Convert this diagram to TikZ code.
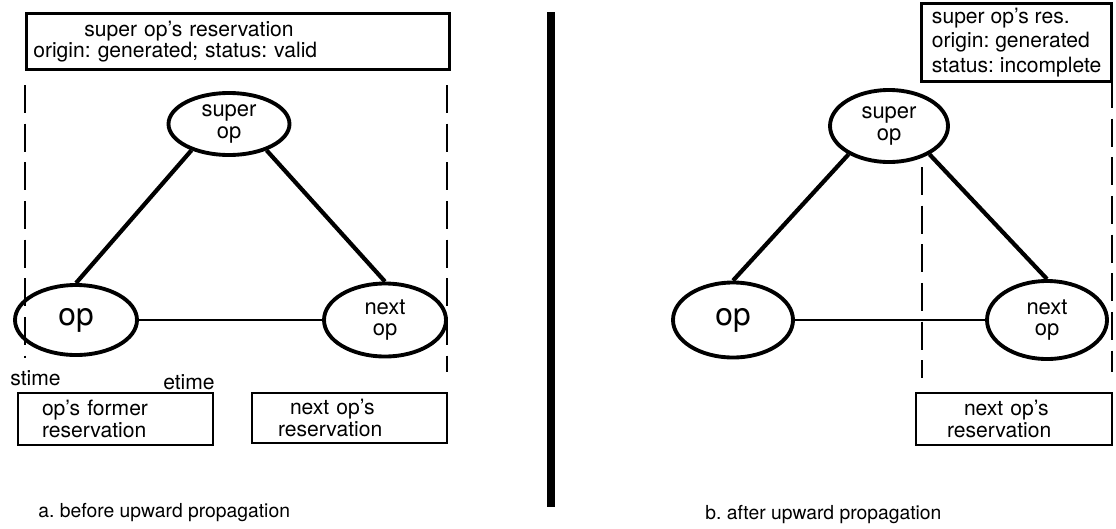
\documentclass[tikz,border=0pt]{standalone}
\usepackage{fontspec}
\setmainfont{TeX Gyre Heros}
\usepackage{tikz}
\usetikzlibrary{shapes.geometric}
\frenchspacing

\begin{document}
\begin{tikzpicture}

          \tikzstyle{opNode} = [draw, ellipse, line width=2.2pt, inner sep=0pt, align=center, font=\fontsize{12.5}{12}\selectfont];
          \tikzstyle{bigOpNode} = [opNode, font=\fontsize{18}{18}\selectfont];
          \tikzstyle{resBox} = [draw, rectangle, line width=1.5pt, inner sep=0pt, align=left, font=\fontsize{12}{12}\selectfont];
          \tikzstyle{timeLabel} = [inner sep=0pt, font=\fontsize{12}{12}\selectfont];
          \tikzstyle{caption} = [inner sep=0pt, anchor=west, font=\fontsize{11}{11}\selectfont];

          \tikzstyle{treeEdge} = [line width=2.4pt];
          \tikzstyle{seqEdge} = [line width=1.3pt];
          \tikzstyle{boundLine} = [line width=0.9pt, dash pattern=on 16pt off 6pt];

          \useasboundingbox (0,0) rectangle (22.32,-10.56);

          % a. before upward propagation
          \node[resBox, anchor=north west, minimum width=8.46cm, minimum height=1.12cm, text width=8.18cm] (superResA) at (0.5,-0.24)
            {\hspace*{1.02cm}super op's reservation\\origin: generated; status: valid};
          \node[opNode, minimum width=2.42cm, minimum height=1.24cm] (superA) at (4.58,-2.48) {super\\op};
          \node[bigOpNode, minimum width=2.44cm, minimum height=1.4cm] (opA) at (1.52,-6.4) {op};
          \node[opNode, minimum width=2.44cm, minimum height=1.46cm] (nextA) at (7.7,-6.4) {next\\op};
          \node[timeLabel, anchor=west] (stimeA) at (0.2,-7.56) {stime};
          \node[timeLabel, anchor=east] (etimeA) at (4.3,-7.64) {etime};
          \node[resBox, minimum width=3.9cm, minimum height=1.04cm, text width=2.94cm, font=\fontsize{12}{11}\selectfont] (formerResA) at (2.31,-8.38)
            {op's former\\reservation};
          \node[resBox, minimum width=3.9cm, minimum height=1.0cm, text width=2.86cm, font=\fontsize{12}{11}\selectfont] (nextResA) at (6.99,-8.36)
            {\hspace*{0.24cm}next op's\\reservation};
          \node[caption] (capA) at (0.76,-10.26) {a. before upward propagation};

          \draw[treeEdge] (superA.215) -- (opA.north);
          \draw[treeEdge] (superA.-35) -- (nextA.north);
          \draw[seqEdge] (opA) -- (nextA);
          \draw[boundLine] (0.5,-1.7) -- (0.5,-7.16);
          \draw[boundLine] (8.94,-1.7) -- (8.94,-7.44);

          % separator
          \draw[line width=4pt] (11.02,-0.24) -- (11.02,-10.14);

          % b. after upward propagation
          \node[resBox, anchor=north east, minimum width=3.8cm, minimum height=1.56cm, font=\fontsize{12}{14}\selectfont] (superResB) at (22.26,-0.04)
            {super op's res.\\origin: generated\\status: incomplete};
          \node[opNode, minimum width=2.36cm, minimum height=1.44cm] (superB) at (17.78,-2.52) {super\\op};
          \node[bigOpNode, minimum width=2.4cm, minimum height=1.5cm] (opB) at (14.66,-6.4) {op};
          \node[opNode, minimum width=2.4cm, minimum height=1.56cm] (nextB) at (20.94,-6.4) {next\\op};
          \node[resBox, minimum width=3.92cm, minimum height=1.04cm, text width=2.68cm, font=\fontsize{12}{11}\selectfont] (nextResB) at (20.28,-8.38)
            {\hspace*{0.34cm}next op's\\reservation};
          \node[caption] (capB) at (14.1,-10.3) {b. after upward propagation};

          \draw[treeEdge] (superB.215) -- (opB.north);
          \draw[treeEdge] (superB.-35) -- (nextB.north);
          \draw[seqEdge] (opB) -- (nextB);
          \draw[boundLine] (18.44,-3.34) -- (18.44,-7.56);
          \draw[boundLine] (22.24,-1.6) -- (22.24,-7.44);

\end{tikzpicture}
\end{document}
